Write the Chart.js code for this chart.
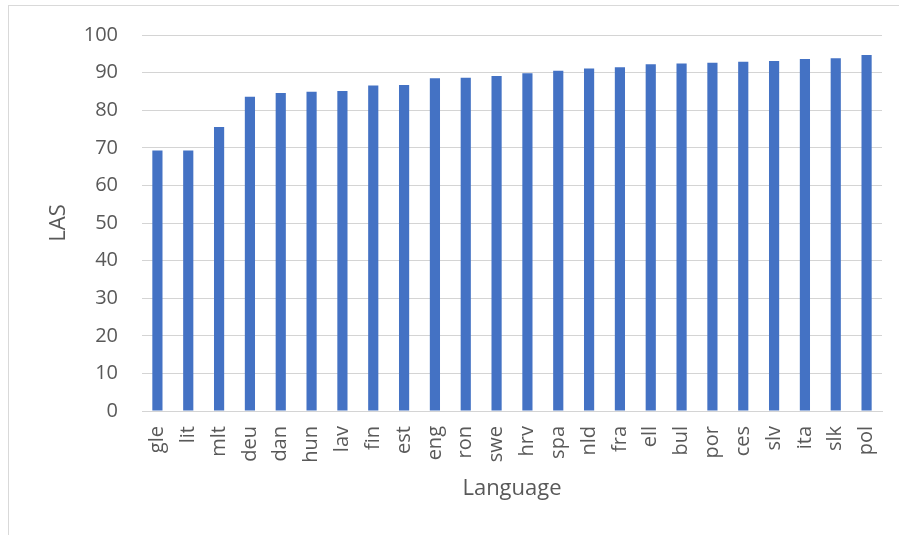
<!DOCTYPE html>
<html>
<head>
<meta charset="utf-8">
<script src="https://cdn.jsdelivr.net/npm/chart.js@4"></script>
<style>
  html, body { margin: 0; padding: 0; background: #fff; }
  #wrap { position: relative; width: 899px; height: 535px; overflow: hidden; }
  #frame { position: absolute; left: 8px; top: 5px; width: 1000px; height: 1000px; border: 1px solid #d9d9d9; }
  canvas { position: absolute; left: 0; top: 0; }
</style>
</head>
<body>
<div id="wrap">
  <div id="frame"></div>
  <canvas id="lasChart" width="899" height="535"></canvas>
</div>
<script>
// data
const languages = ['gle', 'lit', 'mlt', 'deu', 'dan', 'hun', 'lav', 'fin', 'est', 'eng', 'ron', 'swe',
    'hrv', 'spa', 'nld', 'fra', 'ell', 'bul', 'por', 'ces', 'slv', 'ita', 'slk', 'pol'];
const lasScores = [69.3, 69.3, 75.5, 83.6, 84.6, 84.9, 85.1, 86.6, 86.7, 88.5, 88.6, 89.1,
    89.8, 90.5, 91.1, 91.4, 92.2, 92.4, 92.6, 92.9, 93.1, 93.6, 93.8, 94.7];
const yTicks = [0, 10, 20, 30, 40, 50, 60, 70, 80, 90, 100];

const txt = '#595959';
const fam = '"Open Sans", "Liberation Sans", sans-serif';

new Chart(document.getElementById('lasChart'), {
    type: 'bar',
    data: {
        labels: languages,
        datasets: [{ data: lasScores, backgroundColor: '#4472c4', barPercentage: 0.33, categoryPercentage: 1 }]
    },
    options: {
        responsive: false, animation: false,
        layout: { padding: { top: 35, right: 17, left: 0, bottom: 0 } },
        plugins: { legend: { display: false }, tooltip: { enabled: false } },
        scales: {
            x: {
                grid: { display: false, drawTicks: false },
                border: { display: true, color: '#d4d4d4', width: 1 },
                ticks: { autoSkip: false, minRotation: 90, maxRotation: 90, padding: 15, color: txt, font: { family: fam, size: 20 } },
                title: { display: true, text: 'Language', color: txt, font: { family: fam, size: 22 }, padding: { top: 0, bottom: 33 } },
                afterFit: (s) => { s.height = 124; s.paddingLeft = 0; s.paddingRight = 0; }
            },
            y: {
                min: 0, max: 100,
                afterBuildTicks: (s) => { s.ticks = yTicks.map(v => ({ value: v })); },
                grid: { color: '#d4d4d4', lineWidth: 1, drawTicks: false },
                border: { display: false },
                ticks: { padding: 24, color: txt, font: { family: fam, size: 20 } },
                title: { display: true, text: 'LAS', color: txt, font: { family: fam, size: 22 }, padding: { top: 46, bottom: 0 } },
                afterFit: (s) => { s.width = 142; s.paddingTop = 0; s.paddingBottom = 0; }
            }
        }
    }
});
</script>
</body>
</html>
